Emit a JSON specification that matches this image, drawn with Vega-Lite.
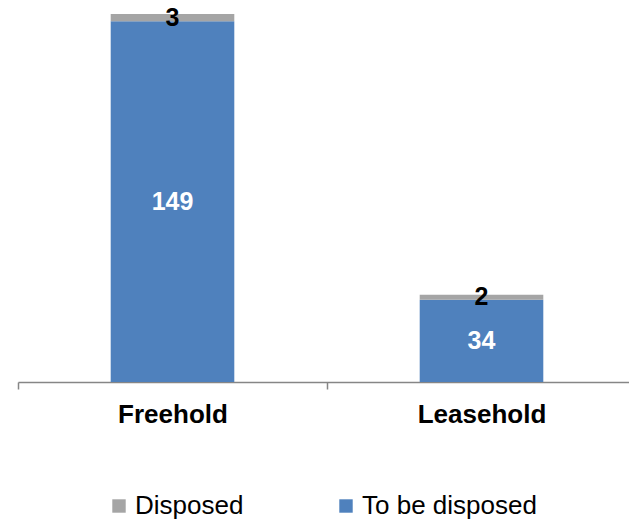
{
  "$schema": "https://vega.github.io/schema/vega-lite/v6.json",
  "autosize": "none",
  "width": 611,
  "height": 368,
  "padding": {"left": 18, "top": 14, "right": 0, "bottom": 139},
  "background": "white",
  "config": {"view": {"stroke": null}, "font": "Liberation Sans"},
  "data": {
    "values": [
      {"type": "Freehold", "series": "To be disposed", "value": 149},
      {"type": "Freehold", "series": "Disposed", "value": 3},
      {"type": "Leasehold", "series": "To be disposed", "value": 34},
      {"type": "Leasehold", "series": "Disposed", "value": 2}
    ]
  },
  "transform": [
    {"stack": "value", "groupby": ["type"], "sort": [{"field": "series", "order": "descending"}], "as": ["v0", "v1"]},
    {"calculate": "(datum.v0 + datum.v1) / 2", "as": "mid"}
  ],
  "encoding": {
    "x": {
      "field": "type", "type": "nominal", "title": null,
      "scale": {"range": [0, 618], "paddingInner": 0, "paddingOuter": 0},
      "axis": {
        "labelAngle": 0, "labelFont": "Liberation Sans", "labelFontSize": 26, "labelFontWeight": "bold",
        "labelColor": "black", "labelPadding": 12, "domainColor": "#868686", "domainWidth": 1.5,
        "tickColor": "#868686", "tickWidth": 1.5, "tickSize": 7, "tickBand": "extent"
      }
    }
  },
  "layer": [
    {
      "mark": {"type": "bar", "width": {"band": 0.4}},
      "encoding": {
        "y": {"field": "v1", "type": "quantitative", "scale": {"domain": [0, 152], "nice": false, "zero": true}, "axis": null},
        "y2": {"field": "v0"},
        "color": {
          "field": "series", "type": "nominal",
          "scale": {"domain": ["Disposed", "To be disposed"], "range": ["#A5A5A5", "#4F81BD"]},
          "legend": {
            "title": null, "orient": "none", "direction": "horizontal", "columns": 2,
            "legendX": 88, "legendY": 479, "padding": 0,
            "symbolType": "square", "symbolSize": 180, "symbolStrokeWidth": 0, "symbolOpacity": 1,
            "labelFont": "Liberation Sans", "labelFontSize": 26, "labelColor": "black",
            "labelOffset": 3, "columnPadding": 89, "labelLimit": 300
          }
        }
      }
    },
    {
      "mark": {"type": "text", "font": "Liberation Sans", "fontSize": 25, "fontWeight": "bold", "baseline": "middle"},
      "encoding": {
        "y": {"field": "mid", "type": "quantitative"},
        "text": {"field": "value", "type": "quantitative"},
        "color": {"condition": {"test": "datum.series == 'Disposed'", "value": "black"}, "value": "white"}
      }
    }
  ]
}
